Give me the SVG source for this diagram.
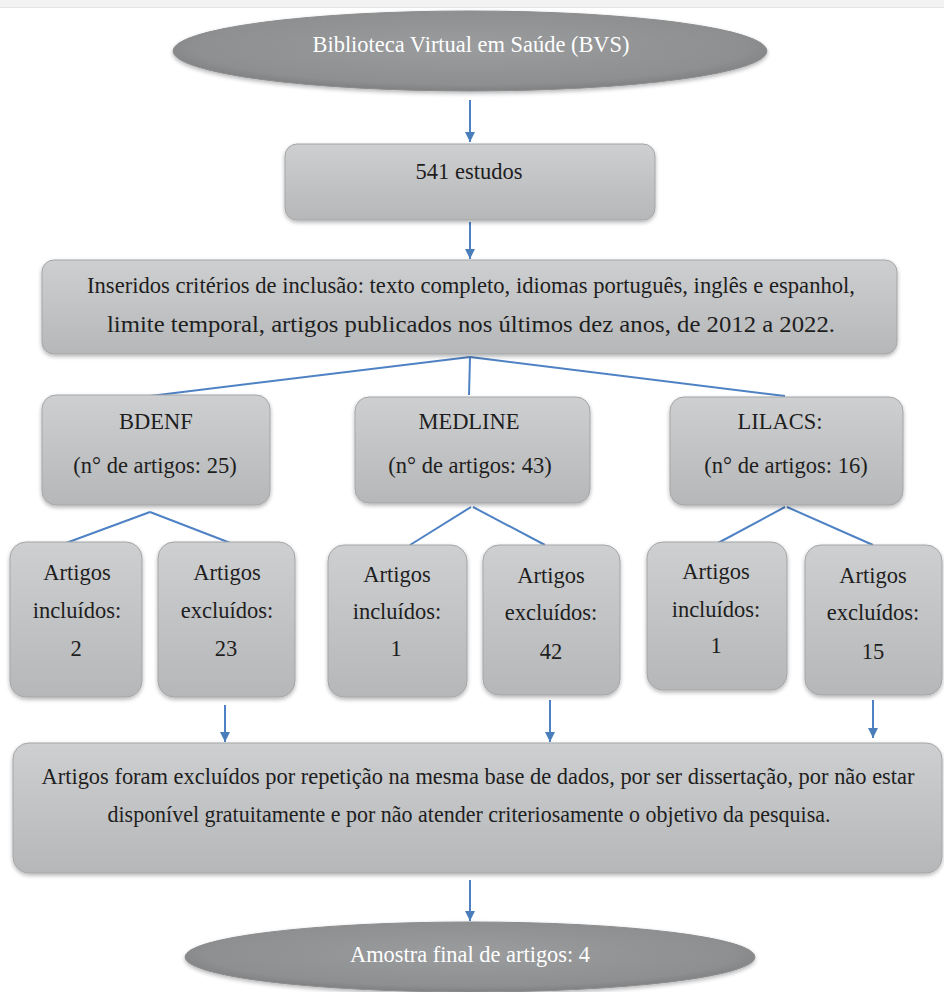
<svg xmlns="http://www.w3.org/2000/svg" width="944" height="992" viewBox="0 0 944 992">
<defs>
<linearGradient id="boxg" x1="0" y1="0" x2="0" y2="1">
<stop offset="0" stop-color="#cecfd1"/>
<stop offset="1" stop-color="#b5b7b9"/>
</linearGradient>
<radialGradient id="ellg" cx="0.5" cy="0.45" r="0.55">
<stop offset="0" stop-color="#9a9c9e"/>
<stop offset="0.85" stop-color="#8d8f91"/>
<stop offset="1" stop-color="#7e8082"/>
</radialGradient>
<filter id="sh" x="-10%" y="-10%" width="120%" height="130%">
<feGaussianBlur in="SourceAlpha" stdDeviation="2"/>
<feOffset dx="0" dy="2" result="b"/>
<feComponentTransfer><feFuncA type="linear" slope="0.3"/></feComponentTransfer>
<feMerge><feMergeNode/><feMergeNode in="SourceGraphic"/></feMerge>
</filter>
<marker id="ah" viewBox="0 0 10 10" refX="10" refY="5" markerWidth="10" markerHeight="10" orient="auto" markerUnits="userSpaceOnUse">
<path d="M0,0 L10,5 L0,10 Z" fill="#4a7ebb"/>
</marker>
<style>
.box{fill:url(#boxg);stroke:#a3a5a7;stroke-width:1;filter:url(#sh)}
.ell{fill:url(#ellg);stroke:#8a8c8e;stroke-width:1;filter:url(#sh)}
.t{font-family:"Liberation Serif","Times New Roman",serif;font-size:22.5px;fill:#1e1e1e;text-anchor:middle}
.tw{font-family:"Liberation Serif","Times New Roman",serif;font-size:22.5px;fill:#ffffff;text-anchor:middle}
.c{stroke:#4f82c4;stroke-width:2;fill:none}
.a{stroke:#4f82c4;stroke-width:2;fill:none;marker-end:url(#ah)}
</style>
</defs>
<rect x="0" y="0" width="944" height="992" fill="#ffffff"/>
<rect x="0" y="0" width="944" height="7" fill="#f3f3f3"/>
<line x1="0" y1="7.5" x2="944" y2="7.5" stroke="#e4e4e4" stroke-width="1"/>

<g id="connectors">
<line class="a" x1="470" y1="100" x2="470" y2="142"/>
<line class="a" x1="470" y1="222" x2="470" y2="259"/>
<line class="c" x1="470" y1="357" x2="150" y2="396"/>
<line class="c" x1="470" y1="357" x2="469" y2="395"/>
<line class="c" x1="470" y1="357" x2="785" y2="396"/>
<line class="c" x1="150" y1="512" x2="66" y2="543"/>
<line class="c" x1="150" y1="512" x2="233" y2="544"/>
<line class="c" x1="471" y1="507" x2="410" y2="545"/>
<line class="c" x1="473" y1="507" x2="545" y2="545"/>
<line class="c" x1="785" y1="507" x2="718" y2="543"/>
<line class="c" x1="787" y1="507" x2="873" y2="545"/>
<line class="a" x1="225" y1="705" x2="225" y2="742"/>
<line class="a" x1="550" y1="700" x2="550" y2="742"/>
<line class="a" x1="873" y1="700" x2="873" y2="738"/>
<line class="a" x1="470" y1="880" x2="470" y2="921"/>
</g>

<g id="bvs">
<ellipse class="ell" cx="470" cy="51" rx="297" ry="40"/>
<text class="tw" x="471" y="52" textLength="317" lengthAdjust="spacingAndGlyphs">Biblioteca Virtual em Saúde (BVS)</text>
</g>

<g id="estudos">
<rect class="box" x="285" y="144" width="370" height="76" rx="12"/>
<text class="t" x="469" y="179">541 estudos</text>
</g>

<g id="criterios">
<rect class="box" x="42" y="260" width="855" height="94" rx="12"/>
<text class="t" x="471" y="293" textLength="768" lengthAdjust="spacingAndGlyphs">Inseridos critérios de inclusão: texto completo, idiomas português, inglês e espanhol,</text>
<text class="t" x="471" y="332" textLength="728" lengthAdjust="spacingAndGlyphs">limite temporal, artigos publicados nos últimos dez anos, de 2012 a 2022.</text>
</g>

<g id="bdenf">
<rect class="box" x="42" y="395" width="228" height="110" rx="14"/>
<text class="t" x="156" y="429">BDENF</text>
<text class="t" x="155" y="473">(n° de artigos: 25)</text>
</g>

<g id="medline">
<rect class="box" x="355" y="397" width="235" height="106" rx="14"/>
<text class="t" x="469" y="429">MEDLINE</text>
<text class="t" x="470" y="473">(n° de artigos: 43)</text>
</g>

<g id="lilacs">
<rect class="box" x="670" y="397" width="233" height="108" rx="14"/>
<text class="t" x="780" y="429">LILACS:</text>
<text class="t" x="786" y="473">(n° de artigos: 16)</text>
</g>

<g id="bdenf-incl">
<rect class="box" x="10" y="542" width="132" height="155" rx="16"/>
<text class="t" x="77" y="580">Artigos</text>
<text class="t" x="77" y="618">incluídos:</text>
<text class="t" x="76" y="656">2</text>
</g>
<g id="bdenf-excl">
<rect class="box" x="158" y="542" width="137" height="155" rx="16"/>
<text class="t" x="227" y="580">Artigos</text>
<text class="t" x="227" y="618">excluídos:</text>
<text class="t" x="226" y="656">23</text>
</g>
<g id="medline-incl">
<rect class="box" x="328" y="545" width="139" height="152" rx="16"/>
<text class="t" x="397" y="582">Artigos</text>
<text class="t" x="397" y="619">incluídos:</text>
<text class="t" x="396" y="656">1</text>
</g>
<g id="medline-excl">
<rect class="box" x="483" y="545" width="137" height="150" rx="16"/>
<text class="t" x="551" y="583">Artigos</text>
<text class="t" x="551" y="620">excluídos:</text>
<text class="t" x="551" y="659">42</text>
</g>
<g id="lilacs-incl">
<rect class="box" x="647" y="542" width="140" height="148" rx="16"/>
<text class="t" x="716" y="579">Artigos</text>
<text class="t" x="716" y="617">incluídos:</text>
<text class="t" x="716" y="653">1</text>
</g>
<g id="lilacs-excl">
<rect class="box" x="805" y="545" width="137" height="150" rx="16"/>
<text class="t" x="873" y="583">Artigos</text>
<text class="t" x="873" y="620">excluídos:</text>
<text class="t" x="873" y="659">15</text>
</g>

<g id="exclusao">
<rect class="box" x="13" y="743" width="929" height="130" rx="16"/>
<text class="t" x="478" y="784" textLength="873" lengthAdjust="spacingAndGlyphs">Artigos foram excluídos por repetição na mesma base de dados, por ser dissertação, por não estar</text>
<text class="t" x="469" y="822" textLength="723" lengthAdjust="spacingAndGlyphs">disponível gratuitamente e por não atender criteriosamente o objetivo da pesquisa.</text>
</g>

<g id="amostra">
<ellipse class="ell" cx="470" cy="957" rx="285" ry="35"/>
<text class="tw" x="470" y="962" textLength="240" lengthAdjust="spacingAndGlyphs">Amostra final de artigos: 4</text>
</g>
</svg>
